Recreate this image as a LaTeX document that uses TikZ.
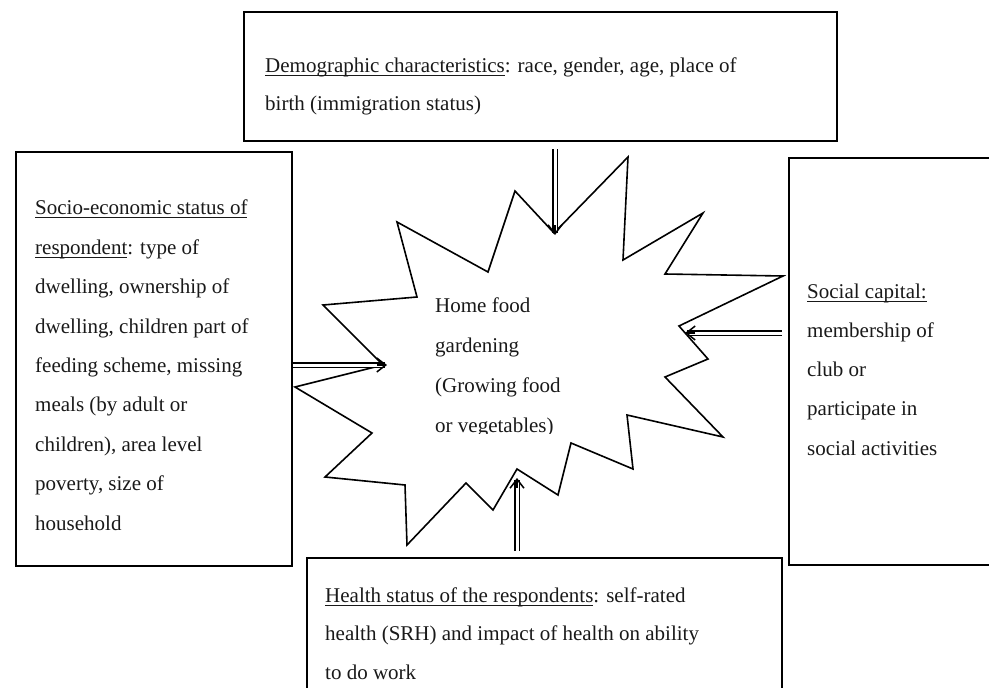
\documentclass[tikz,border=0pt]{standalone}
\usepackage{fontspec}
\setmainfont{Liberation Serif}
\usepackage{tikz}
\usetikzlibrary{arrows.meta,calc}

% underline a piece of text at a fixed depth
\newcommand{\uln}[1]{\setbox0\hbox{#1}\rlap{\vrule height -2.6pt depth 3.4pt width \wd0}\box0}

\begin{document}
\begin{tikzpicture}
		[x=1pt,y=-1pt,
		box/.style={draw,line width=2pt,inner sep=0pt},
		txt/.style={anchor=base west,inner sep=0pt,align=left,text=black!90,
			font=\fontsize{21}{39.4}\selectfont},
		starline/.style={draw,fill=white,line width=1.6pt,line join=miter},
		shaft/.style={double,double distance=3pt,line width=1.5pt,shorten >=2pt},
		barb/.style={line width=1.5pt,line join=miter,
			-{Straight Barb[length=9pt,width=14pt]}}]
		\useasboundingbox (0,0) rectangle (989,688);
		\clip (0,0) rectangle (989,688);
		% the four boxes
		\node[box,minimum width=593pt,minimum height=129pt] (demo) at (540.5,76.5) {};
		\node[box,minimum width=276pt,minimum height=414pt] (socio) at (154,359) {};
		\node[box,minimum width=221pt,minimum height=407pt] (social) at (899.5,361.5) {};
		\node[box,minimum width=475pt,minimum height=142pt] (health) at (544.5,629) {};
		% the star
		\draw[starline] (554,233) -- (628,157) -- (623,260) -- (703,213) -- (665,274)
			-- (783,276) -- (679,326) -- (708,359) -- (665,377) -- (723,437)
			-- (627,415) -- (633,469) -- (571,443) -- (558,495) -- (517,469)
			-- (493,510) -- (466,483) -- (407,545) -- (405,485) -- (325,477)
			-- (372,433) -- (295,387) -- (383,365) -- (323,305) -- (417,297)
			-- (397,222) -- (488,272) -- (515,191) -- cycle;
		\coordinate (tipN) at (555,235);
		\coordinate (tipW) at (387,365);
		\coordinate (tipE) at (685,333);
		\coordinate (tipS) at (517,478);
		\begin{scope}
			\clip (380,250) rectangle (800,433);
			\node[txt,font=\fontsize{21}{40}\selectfont] (garden) at (435,432)
				{Home food\\gardening\\(Growing food\\or vegetables)};
		\end{scope}
		% texts (placed at the baseline of their last line)
		\node[txt,font=\fontsize{21}{38}\selectfont] (demotxt) at (265,110)
			{\uln{Demographic characteristics}: race, gender, age, place of\\
			birth (immigration status)};
		\node[txt] (sociotxt) at (35,530)
			{\uln{Socio-economic status of}\\
			\uln{respondent}: type of\\
			dwelling, ownership of\\
			dwelling, children part of\\
			feeding scheme, missing\\
			meals (by adult or\\
			children), area level\\
			poverty, size of\\
			household};
		\node[txt,font=\fontsize{21}{39.25}\selectfont] (socialtxt) at (807,455)
			{\uln{Social capital:}\\
			membership of\\
			club or\\
			participate in\\
			social activities};
		\node[txt,font=\fontsize{21}{38.5}\selectfont] (healthtxt) at (325,679)
			{\uln{Health status of the respondents}: self-rated\\
			health (SRH) and impact of health on ability\\
			to do work};
		% arrows into the star: hollow shaft, then the head
		\coordinate (fromN) at ([yshift=-7pt]demo.south -| tipN);
		\coordinate (fromW) at (socio.east |- tipW);
		\coordinate (fromE) at ([xshift=-6pt]social.west |- tipE);
		\coordinate (fromS) at ([yshift=6pt]health.north -| tipS);
		\foreach \a in {N,W,E,S}{
			\draw[shaft] (from\a) -- (tip\a);
			\draw[barb] ($(tip\a)!10pt!(from\a)$) -- (tip\a);
		}
\end{tikzpicture}
\end{document}
